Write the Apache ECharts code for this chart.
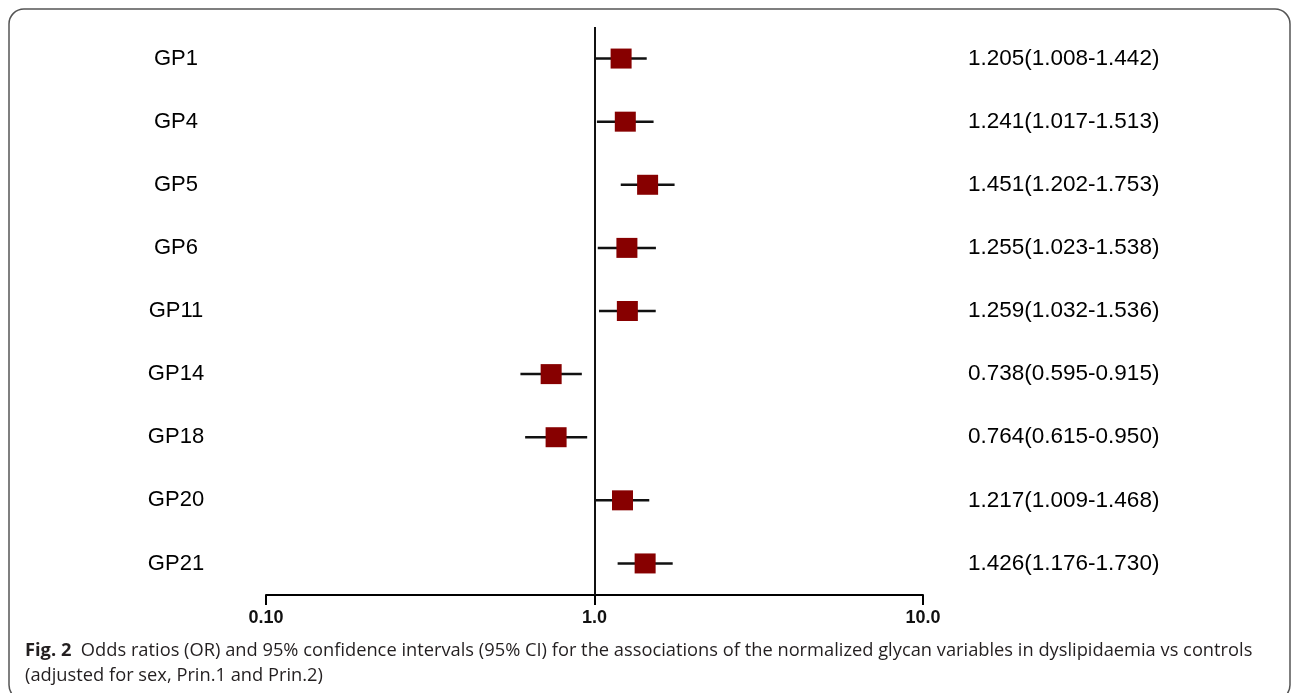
<!DOCTYPE html>
<html>
<head>
<meta charset="utf-8">
<script src="https://cdn.jsdelivr.net/npm/echarts@6/dist/echarts.min.js"></script>
<style>html,body{margin:0;padding:0;background:#fff;}#c{width:1293px;height:693px;}</style>
</head>
<body>
<div id="c"></div>
<script>
const categories = ['GP1','GP4','GP5','GP6','GP11','GP14','GP18','GP20','GP21'];
const orValues = [1.205,1.241,1.451,1.255,1.259,0.738,0.764,1.217,1.426];
const ciLower = [1.008,1.017,1.202,1.023,1.032,0.595,0.615,1.009,1.176];
const ciUpper = [1.442,1.513,1.753,1.538,1.536,0.915,0.950,1.468,1.730];
const tickLabels = ['0.10','1.0','10.0'];

const rightLabels = categories.map((c,i)=>orValues[i].toFixed(3)+'('+ciLower[i].toFixed(3)+'-'+ciUpper[i].toFixed(3)+')');
const barData = categories.map((c,i)=>[ciLower[i], ciUpper[i], i]);
const pointData = categories.map((c,i)=>[orValues[i], i]);

const chart = echarts.init(document.getElementById('c'));
chart.setOption({
  animation:false,
  backgroundColor:'#fff',
  grid:{left:266,right:370,top:27,bottom:98},
  xAxis:{
    type:'log', logBase:10, min:0.1, max:10,
    axisLine:{show:true,lineStyle:{color:'#000',width:2}},
    axisTick:{show:true,length:10,lineStyle:{color:'#000',width:2}},
    minorTick:{show:false},
    splitLine:{show:false},
    axisLabel:{
      margin:14,
      color:'#111',
      fontFamily:'Liberation Sans Narrow, Liberation Sans, Arial',
      fontWeight:'bold',
      fontSize:18,
      formatter:function(v){return tickLabels[Math.round(Math.log10(v))+1];}
    }
  },
  yAxis:[{
    type:'category', inverse:true, data:categories,
    axisLine:{show:false}, axisTick:{show:false}, splitLine:{show:false},
    axisLabel:{margin:90, align:'center', color:'#000', fontFamily:'Liberation Sans, Arial', fontSize:22, padding:[4,0,0,0]}
  },{
    type:'category', inverse:true, position:'right', data:rightLabels,
    axisLine:{show:false}, axisTick:{show:false}, splitLine:{show:false},
    axisLabel:{margin:45, align:'left', color:'#000', fontFamily:'Liberation Sans, Arial', fontSize:22.5, padding:[4,0,0,0]}
  }],
  series:[{
    type:'custom',
    data:barData,
    encode:{x:[0,1], y:2},
    renderItem:function(params, api){
      const p1 = api.coord([api.value(0), api.value(2)]);
      const p2 = api.coord([api.value(1), api.value(2)]);
      return {type:'line', shape:{x1:p1[0],y1:p1[1],x2:p2[0],y2:p2[1]}, style:{stroke:'#111',lineWidth:2.5}};
    },
    z:2
  },{
    type:'scatter',
    data:pointData,
    symbol:'rect',
    symbolSize:[21,20],
    itemStyle:{color:'#870000', opacity:1},
    z:3,
    markLine:{
      silent:true, symbol:'none',
      label:{show:false},
      lineStyle:{color:'#111',width:2,type:'solid'},
      data:[{xAxis:1}]
    }
  }],
  graphic:[{
    type:'rect',
    shape:{x:9,y:9,width:1281,height:691,r:15},
    style:{fill:null,stroke:'#555',lineWidth:1.5},
    silent:true
  },{
    type:'text', x:25, y:651,
    style:{
      text:'{b|Fig. 2}  Odds ratios (OR) and 95% confidence intervals (95% CI) for the associations of the normalized glycan variables in dyslipidaemia vs controls',
      fontFamily:'Open Sans', fontSize:18.3, fill:'#231f20', verticalAlign:'middle',
      rich:{b:{fontFamily:'Open Sans',fontWeight:'bold',fontSize:18.3,fill:'#231f20'}}
    }
  },{
    type:'text', x:25, y:676,
    style:{
      text:'(adjusted for sex, Prin.1 and Prin.2)',
      fontFamily:'Open Sans', fontSize:18.3, fill:'#231f20', verticalAlign:'middle'
    }
  }]
});
</script>
</body>
</html>
